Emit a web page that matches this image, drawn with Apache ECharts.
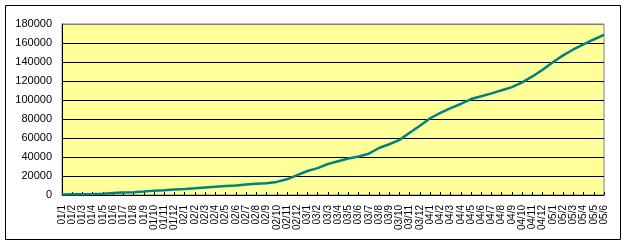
<!DOCTYPE html>
<html><head><meta charset="utf-8">
<script src="https://cdn.jsdelivr.net/npm/echarts@6/dist/echarts.min.js"></script>
<style>html,body{margin:0;padding:0;background:#fff;}#c{width:628px;height:246px;}</style>
</head><body><div id="c"></div>
<script>
const years = ['01','02','03','04','05'];
const monthsPerYear = [12,12,12,12,6];
const categories = [];
years.forEach((y,k)=>{for(let m=1;m<=monthsPerYear[k];m++) categories.push(y+'/'+m);});
const values = [500,700,900,1100,1400,2200,2700,3000,3600,4600,5100,5700,
  6300,7000,7900,8800,9500,10000,11000,11800,12300,13800,16500,21000,
  25300,28300,32600,35600,38500,40600,43500,49500,53400,58000,65500,72800,
  80800,86500,91500,95800,101000,104000,107000,110200,113600,118500,124800,131800,
  139800,147000,153200,158500,163700,168500];
const yTicks = {min:0,max:180000,interval:20000};

const chart = echarts.init(document.getElementById('c'),null,{renderer:'canvas'});
chart.setOption({
  animation:false,
  backgroundColor:'#fff',
  graphic:[{type:'rect',shape:{x:5.5,y:5.5,width:615,height:234},style:{fill:'none',stroke:'#000',lineWidth:1},z:-1}],
  grid:{left:62,right:24,top:24,bottom:51,show:true,backgroundColor:'#FFFF99',borderColor:'#808080',borderWidth:1},
  xAxis:{type:'category',data:categories,boundaryGap:false,
    axisLine:{lineStyle:{color:'#000',width:1}},
    axisTick:{show:true,inside:true,length:3,lineStyle:{color:'#000'}},
    axisLabel:{rotate:90,interval:0,fontSize:10,color:'#000',margin:10,fontFamily:'Liberation Sans, Arial, sans-serif'},
    splitLine:{show:false}},
  yAxis:{type:'value',min:yTicks.min,max:yTicks.max,interval:yTicks.interval,
    axisLine:{show:true,lineStyle:{color:'#000',width:1}},
    axisTick:{show:false},
    axisLabel:{fontSize:11,color:'#000',margin:10,fontFamily:'Liberation Sans, Arial, sans-serif',formatter:v=>String(v)},
    splitLine:{show:true,lineStyle:{color:['#000','#000','#000','#000','#000','#000','#000','#000','#000','#808080'],width:1}}},
  series:[{type:'line',data:values,symbol:'none',smooth:false,
    lineStyle:{color:'#008080',width:2.5},itemStyle:{color:'#008080'}}]
});
</script></body></html>
